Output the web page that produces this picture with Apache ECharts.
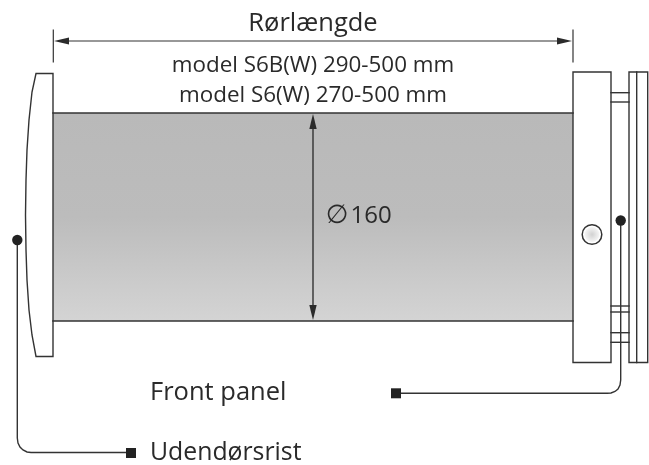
<!DOCTYPE html>
<html><head><meta charset="utf-8">
<style>html,body{margin:0;padding:0;background:#fff}#c{width:649px;height:465px}</style>
<script src="https://cdn.jsdelivr.net/npm/echarts@6/dist/echarts.min.js"></script>
</head><body><div id="c"></div>
<script>
// Diagram geometry, in drawing units on hidden axes
const tube = [[53,113],[573,321]];
const tubeEdges = [[[53,113],[573,113]],[[53,321],[573,321]]];
const grille = [[53,73.5],[36,73.5],[32,92],[29,120],[27,150],[26,180],[25.5,215],[26,250],[27,280],[29,310],[32,335],[36,356.5],[53,356.5],[53,73.5]];
const block = [[573,72],[611,72],[611,362.5],[573,362.5],[573,72]];
const plateOuter = [[629,72],[647.7,72],[647.7,362.5],[629,362.5],[629,72]];
const plateDivider = [[636.7,72],[636.7,362.5]];
const connectorRows = [92.7,102,306,312,332.7,342.3];
const connectorSpan = [611,629];
const dimTicks = [[[53.3,30],[53.3,62]],[[573,30],[573,62]]];
const dimWidth = [[68,41],[558,41]];
const dimHeight = [[313,128],[313,306]];
const arrowHeads = [
  [[54,41],[69,37.5],[69,44.5]],
  [[572,41],[557,37.5],[557,44.5]],
  [[313,114],[309.3,129],[316.7,129]],
  [[313,320],[309.3,305],[316.7,305]]
];
const leaderLeft = [[17.3,240],[17.3,438],[18,443],[20,447],[23,450],[27,452],[31,452.5],[131,452.5]];
const leaderRight = [[620.7,220],[620.7,380],[620,385],[618,389],[615,391.5],[611,393],[607,393.3],[396,393.3]];
const dots = [[17.3,240],[620.7,220.5]];
const squares = [[131,453],[396,393.3]];
const lensCentre = [592,234.5];
const labels = [
  ['Rørlængde',313,24,25.5,'center'],
  ['model S6B(W) 290-500 mm',313,65.5,22.4,'center'],
  ['model S6(W) 270-500 mm',313,95.5,22.4,'center'],
  ['∅',337,216,26,'center'],
  ['160',350.5,216.5,24,'left'],
  ['Front panel',150,393,25.5,'left'],
  ['Udendørsrist',150,452.5,24.8,'left']
];

const INK = '#333';
function lineSeries(points, w){
  return {type:'line',data:points,showSymbol:false,symbol:'none',silent:true,animation:false,clip:false,
    lineStyle:{color:INK,width:w||1.4,cap:'square',join:'miter'}};
}
function custom(data, fn, z){
  return {type:'custom',data:data,renderItem:fn,silent:true,animation:false,clip:false,z:z||2,
    encode:{x:0,y:1}};
}
const series = [];
// tube body
series.push(custom([[tube[0][0],tube[0][1],tube[1][0],tube[1][1]]],(p,api)=>{
  const a=api.coord([api.value(0),api.value(1)]),b=api.coord([api.value(2),api.value(3)]);
  return {type:'rect',shape:{x:a[0],y:a[1],width:b[0]-a[0],height:b[1]-a[1]},
    style:{fill:new echarts.graphic.LinearGradient(0,0,0,1,[{offset:0,color:'#b9b9b9'},{offset:.5,color:'#bcbcbc'},{offset:1,color:'#d4d4d4'}])}};
},1));
tubeEdges.forEach(e=>series.push(lineSeries(e,1.6)));
series.push(lineSeries(grille),lineSeries(block),lineSeries(plateOuter),lineSeries(plateDivider));
connectorRows.forEach(y=>series.push(lineSeries([[connectorSpan[0],y],[connectorSpan[1],y]])));
dimTicks.forEach(t=>series.push(lineSeries(t,1.2)));
series.push(lineSeries(dimWidth,1.2),lineSeries(dimHeight,1.4),lineSeries(leaderLeft),lineSeries(leaderRight));
// arrow heads
series.push(custom(arrowHeads.map((h,i)=>[h[0][0],h[0][1],i]),(p,api)=>({
  type:'polygon',shape:{points:arrowHeads[api.value(2)].map(q=>api.coord(q))},style:{fill:'#2b2b2b'}
}),4));
// dots
series.push(custom(dots,(p,api)=>{
  const c=api.coord([api.value(0),api.value(1)]);
  return {type:'circle',shape:{cx:c[0],cy:c[1],r:5.2},style:{fill:'#222'}};
},5));
// squares
series.push(custom(squares,(p,api)=>{
  const c=api.coord([api.value(0),api.value(1)]);
  return {type:'rect',shape:{x:c[0]-5,y:c[1]-5,width:10,height:10},style:{fill:'#222'}};
},5));
// lens
series.push(custom([lensCentre],(p,api)=>{
  const c=api.coord([api.value(0),api.value(1)]);
  return {type:'group',children:[
    {type:'circle',shape:{cx:c[0],cy:c[1],r:9.8},style:{fill:'#fff',stroke:'#333',lineWidth:1.5}},
    {type:'circle',shape:{cx:c[0],cy:c[1],r:7.6},style:{fill:new echarts.graphic.RadialGradient(.5,.5,.5,[{offset:0,color:'#d2d2d2'},{offset:.5,color:'#e4e4e4'},{offset:1,color:'#f6f6f6'}])}}
  ]};
},5));
// text
series.push(custom(labels.map((l,i)=>[l[1],l[2],i]),(p,api)=>{
  const l=labels[api.value(2)],c=api.coord([api.value(0),api.value(1)]);
  return {type:'text',style:{x:c[0],y:c[1],text:l[0],fill:'#2a2a2a',
    font:l[3]+'px "'+(l[0]==='∅'?'DejaVu Sans':'Open Sans')+'"',align:l[4],verticalAlign:'middle'}};
},6));

const chart = echarts.init(document.getElementById('c'),null,{renderer:'canvas'});
chart.setOption({
  animation:false,backgroundColor:'#fff',
  grid:{left:0,right:0,top:0,bottom:0},
  xAxis:{type:'value',min:0,max:649,show:false},
  yAxis:{type:'value',min:0,max:465,inverse:true,show:false},
  series:series
});
</script></body></html>
